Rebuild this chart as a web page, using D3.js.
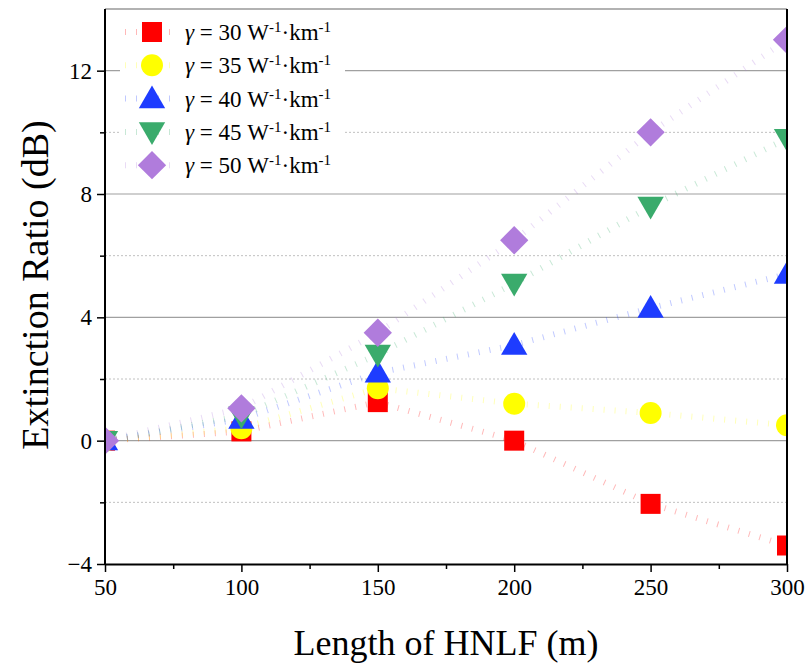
<!DOCTYPE html>
<html>
<head>
<meta charset="utf-8">
<script src="https://cdn.jsdelivr.net/npm/d3@7"></script>
<style>
  body { margin: 0; background: #fff; }
  text { font-family: "Liberation Serif", serif; }
</style>
</head>
<body>
<div id="container"></div>
<script>
const lengths = [50, 100, 150, 200, 250, 300];
const gammas = [30, 35, 40, 45, 50];
const er30 = [0, 0.3, 1.25, 0, -2.05, -3.4];
const er35 = [0, 0.4, 1.7, 1.2, 0.9, 0.5];
const er40 = [0, 0.7, 2.2, 3.1, 4.3, 5.4];
const er45 = [0, 0.8, 2.8, 5.1, 7.6, 9.8];
const er50 = [0, 1.05, 3.5, 6.5, 10, 13];
const yTicks = [-4, 0, 4, 8, 12];
const yMinor = [-2, 2, 6, 10];
const xTicks = [50, 100, 150, 200, 250, 300];
const xMinor = [75, 125, 175, 225, 275];

const series = [
    { g: gammas[0], values: er30, color: "#ff0000", shape: d3.symbolSquare, size: 400, rot: 0 },
    { g: gammas[1], values: er35, color: "#ffff00", shape: d3.symbolCircle, size: 380, rot: 0 },
    { g: gammas[2], values: er40, color: "#1e3cff", shape: d3.symbolTriangle, size: 300, rot: 0 },
    { g: gammas[3], values: er45, color: "#3aab6c", shape: d3.symbolTriangle, size: 300, rot: 180 },
    { g: gammas[4], values: er50, color: "#b07cdc", shape: d3.symbolSquare, size: 400, rot: 45 }
];

const width = 807, height = 663;
const pLeft = 105, pRight = 787, pTop = 9, pBottom = 564;

const svg = d3.select("#container").append("svg")
    .attr("width", width)
    .attr("height", height);

const x = d3.scaleLinear().domain([50, 300]).range([pLeft, pRight]);
const y = d3.scaleLinear().domain([-4, 14]).range([pBottom, pTop]);

// grid
svg.append("g").selectAll("line").data(yTicks.filter(d => d > -4))
    .enter().append("line")
    .attr("x1", pLeft).attr("x2", pRight)
    .attr("y1", d => y(d)).attr("y2", d => y(d))
    .attr("stroke", "#a0a0a0").attr("stroke-width", 1.2);
svg.append("g").selectAll("line").data(yMinor)
    .enter().append("line")
    .attr("x1", pLeft).attr("x2", pRight)
    .attr("y1", d => y(d)).attr("y2", d => y(d))
    .attr("stroke", "#c0c0c0").attr("stroke-width", 1)
    .attr("stroke-dasharray", "2,2");

// frame top
svg.append("line")
    .attr("x1", pLeft).attr("x2", pRight)
    .attr("y1", pTop).attr("y2", pTop)
    .attr("stroke", "#999").attr("stroke-width", 1.5);

svg.append("defs").append("clipPath").attr("id", "clip")
    .append("rect")
    .attr("x", pLeft).attr("y", pTop)
    .attr("width", pRight - pLeft).attr("height", pBottom - pTop);

const plot = svg.append("g").attr("clip-path", "url(#clip)");

const line = d3.line()
    .x((d, i) => x(lengths[i]))
    .y(d => y(d));

series.forEach(s => {
    plot.append("path")
        .attr("d", line(s.values))
        .attr("fill", "none")
        .attr("stroke", s.color)
        .attr("stroke-opacity", 0.28)
        .attr("stroke-width", 6)
        .attr("stroke-dasharray", "1,10");
});

series.forEach(s => {
    plot.append("g").selectAll("path").data(s.values)
        .enter().append("path")
        .attr("d", d3.symbol().type(s.shape).size(s.size))
        .attr("transform", (d, i) => `translate(${x(lengths[i])},${y(d) + (s.shape === d3.symbolTriangle ? (s.rot ? -2 : 2) : 0)}) rotate(${s.rot})`)
        .attr("fill", s.color);
});

// axes
svg.append("g")
    .attr("transform", `translate(0,${pBottom})`)
    .call(d3.axisBottom(x).tickValues(xTicks).tickSize(8).tickSizeOuter(0).tickPadding(7));
svg.append("g")
    .attr("transform", `translate(0,${pBottom})`)
    .call(d3.axisBottom(x).tickValues(xMinor).tickSize(5).tickSizeOuter(0).tickFormat(""))
    .select(".domain").remove();

const yAxis = svg.append("g")
    .attr("transform", `translate(${pLeft},0)`)
    .call(d3.axisLeft(y).tickValues(yTicks).tickSize(8).tickSizeOuter(0).tickPadding(5));
svg.append("g")
    .attr("transform", `translate(${pLeft},0)`)
    .call(d3.axisLeft(y).tickValues(yMinor).tickSize(5).tickSizeOuter(0).tickFormat(""))
    .select(".domain").remove();

svg.append("line")
    .attr("x1", pRight).attr("x2", pRight)
    .attr("y1", pTop).attr("y2", pBottom)
    .attr("stroke", "#000").attr("stroke-width", 2);

svg.selectAll(".domain").attr("stroke", "#000").attr("stroke-width", 2);
svg.selectAll(".tick line").attr("stroke", "#000").attr("stroke-width", 1.5);
svg.selectAll(".tick text")
    .attr("font-family", "Liberation Serif")
    .attr("font-size", 23)
    .attr("fill", "#000");
yAxis.selectAll(".domain").attr("d", `M0,${pTop}V${pBottom + 1}`);

// axis titles
svg.append("text")
    .attr("x", 446)
    .attr("y", 655)
    .attr("text-anchor", "middle")
    .attr("font-size", 36)
    .text("Length of HNLF (m)");
svg.append("text")
    .attr("transform", `translate(48,285) rotate(-90)`)
    .attr("text-anchor", "middle")
    .attr("font-size", 38)
    .text("Extinction Ratio (dB)");

// legend
const legend = svg.append("g");
legend.append("rect")
    .attr("x", 120).attr("y", 16)
    .attr("width", 225).attr("height", 166)
    .attr("fill", "#fff");
series.forEach((s, i) => {
    const ly = 32 + i * 33.3;
    const row = legend.append("g").attr("transform", `translate(0,${ly})`);
    row.append("line")
        .attr("x1", 125).attr("x2", 175)
        .attr("stroke", s.color).attr("stroke-opacity", 0.28)
        .attr("stroke-width", 6).attr("stroke-dasharray", "1,10");
    row.append("path")
        .attr("d", d3.symbol().type(s.shape).size(s.size))
        .attr("transform", `translate(152,${s.shape === d3.symbolTriangle ? (s.rot ? -2 : 2) : 0}) rotate(${s.rot})`)
        .attr("fill", s.color);
    const t = row.append("text")
        .attr("x", 185).attr("y", 8)
        .attr("font-size", 23);
    t.append("tspan").attr("font-style", "italic").text("γ");
    t.append("tspan").text(` = ${s.g} W`);
    t.append("tspan").attr("font-size", 15).attr("dy", -8).text("-1");
    t.append("tspan").attr("dy", 8).text("·km");
    t.append("tspan").attr("font-size", 15).attr("dy", -8).text("-1");
});
</script>
</body>
</html>
